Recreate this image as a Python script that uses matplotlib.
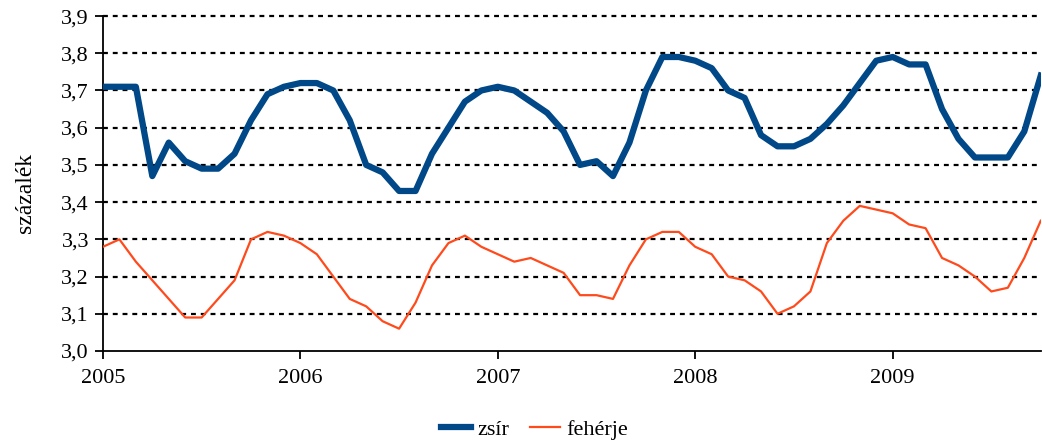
import numpy as np
import matplotlib
matplotlib.use("Agg")
import matplotlib.pyplot as plt

# havi adatok 2005 jan - 2009 okt
zsir = [3.71, 3.71, 3.71, 3.47, 3.56, 3.51, 3.49, 3.49, 3.53, 3.62, 3.69, 3.71,
        3.72, 3.72, 3.70, 3.62, 3.50, 3.48, 3.43, 3.43, 3.53, 3.60, 3.67, 3.70,
        3.71, 3.70, 3.67, 3.64, 3.59, 3.50, 3.51, 3.47, 3.56, 3.70, 3.79, 3.79,
        3.78, 3.76, 3.70, 3.68, 3.58, 3.55, 3.55, 3.57, 3.61, 3.66, 3.72, 3.78,
        3.79, 3.77, 3.77, 3.65, 3.57, 3.52, 3.52, 3.52, 3.59, 3.74]
feherje = [3.28, 3.30, 3.24, 3.19, 3.14, 3.09, 3.09, 3.14, 3.19, 3.30, 3.32, 3.31,
           3.29, 3.26, 3.20, 3.14, 3.12, 3.08, 3.06, 3.13, 3.23, 3.29, 3.31, 3.28,
           3.26, 3.24, 3.25, 3.23, 3.21, 3.15, 3.15, 3.14, 3.23, 3.30, 3.32, 3.32,
           3.28, 3.26, 3.20, 3.19, 3.16, 3.10, 3.12, 3.16, 3.29, 3.35, 3.39, 3.38,
           3.37, 3.34, 3.33, 3.25, 3.23, 3.20, 3.16, 3.17, 3.25, 3.35]
evek = ["2005", "2006", "2007", "2008", "2009"]
y_ticks = [3.0, 3.1, 3.2, 3.3, 3.4, 3.5, 3.6, 3.7, 3.8, 3.9]

plt.rcParams['font.family'] = ['Liberation Serif', 'DejaVu Serif']

fig = plt.figure(figsize=(10.42, 4.46), dpi=100)
ax = fig.add_axes([0.0988, 0.213, 0.9, 0.751])

x = np.arange(len(zsir))
ax.plot(x, zsir, color="#004887", lw=4.5, label="zsír", solid_joinstyle="round", zorder=3)
ax.plot(x, feherje, color="#ff4a1c", lw=1.6, label="fehérje", zorder=3)

ax.set_xlim(0, len(zsir) - 1)
ax.set_ylim(3.0, 3.9)
ax.set_xticks(np.arange(len(evek)) * 12)
ax.set_xticklabels(evek)
ax.set_yticks(y_ticks)
ax.set_yticklabels([f"{v:.1f}".replace(".", ",") for v in y_ticks])

for v in y_ticks[1:]:
    ax.axhline(v, color="black", lw=1.6, ls=(0, (2.2, 2.2)), zorder=1, clip_on=False)

for s in ["top", "right"]:
    ax.spines[s].set_visible(False)
for s in ["left", "bottom"]:
    ax.spines[s].set_linewidth(1.3)
ax.tick_params(axis="both", direction="out", length=6, width=1.3, labelsize=16, pad=4)
ax.tick_params(axis="x", pad=7)

fig.text(0.024, 0.567, "százalék", rotation=90, fontsize=17, va="center", ha="center")

fig.legend(loc="center", bbox_to_anchor=(0.513, 0.036), ncol=2, frameon=False,
           fontsize=16, handlelength=1.35, columnspacing=0.9, handletextpad=0.3)

fig.savefig("out.png", dpi=100)
